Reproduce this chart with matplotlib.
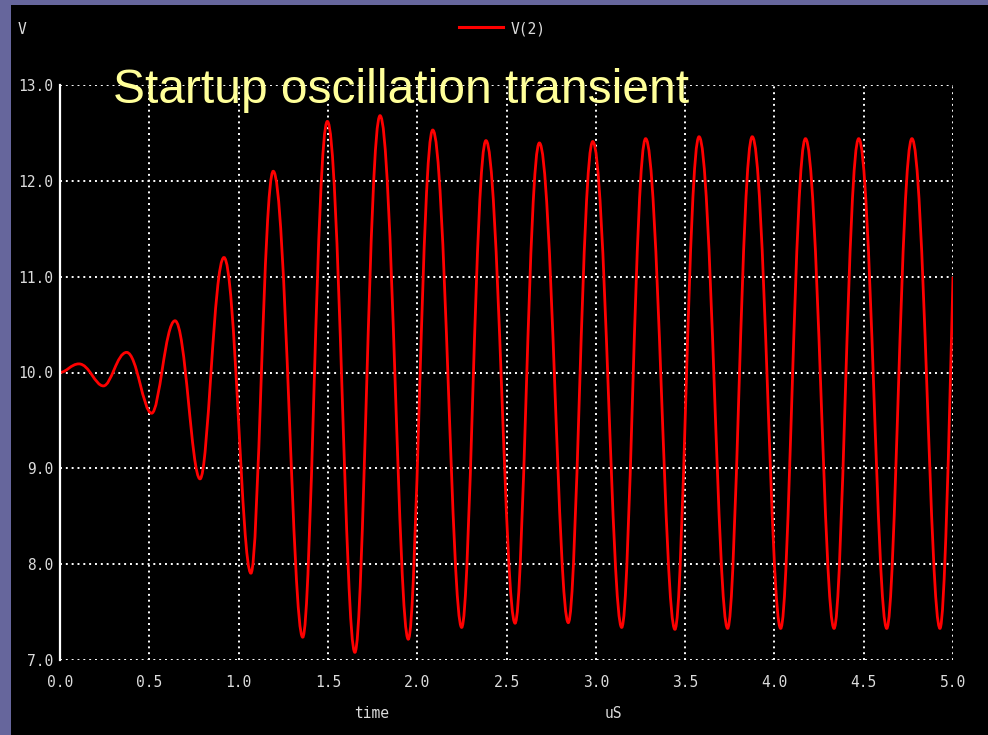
import matplotlib
matplotlib.use("Agg")
import matplotlib.pyplot as plt
from matplotlib.path import Path
from matplotlib.patches import PathPatch, Rectangle
from matplotlib.lines import Line2D

# turning points of V(2) (time in uS, volts), first and last are the run ends
t_ext = [0.0, 0.106, 0.243, 0.373, 0.513, 0.644, 0.784, 0.918, 1.069, 1.194,
         1.359, 1.497, 1.651, 1.792, 1.950, 2.087, 2.249, 2.385, 2.548, 2.684,
         2.846, 2.983, 3.145, 3.279, 3.443, 3.578, 3.738, 3.876, 4.035, 4.174,
         4.334, 4.472, 4.629, 4.770, 4.927, 5.0]
v_ext = [10.0, 10.09, 9.86, 10.21, 9.575, 10.54, 8.89, 11.20, 7.906, 12.10,
         7.238, 12.62, 7.08, 12.68, 7.217, 12.53, 7.34, 12.42, 7.384, 12.395,
         7.39, 12.41, 7.34, 12.44, 7.32, 12.46, 7.33, 12.46, 7.33, 12.44,
         7.33, 12.44, 7.33, 12.44, 7.33, 11.0]

x_ticks = [0.0, 0.5, 1.0, 1.5, 2.0, 2.5, 3.0, 3.5, 4.0, 4.5, 5.0]
y_ticks = [7.0, 8.0, 9.0, 10.0, 11.0, 12.0, 13.0]

title = "Startup oscillation transient"
trace_name = "V(2)"

W, H = 988, 735
fig = plt.figure(figsize=(W / 100, H / 100), dpi=100)
fig.patch.set_facecolor("#66669c")
fig.patches.append(Rectangle((11 / W, 0), 1 - 11 / W, 1 - 5 / H,
                             transform=fig.transFigure, facecolor="black",
                             edgecolor="none", zorder=-10))

ax = fig.add_axes([60 / W, 1 - 660 / H, 893 / W, 575 / H])
ax.set_zorder(1)
ax.set_facecolor("black")
ax.set_xlim(0, 5)
ax.set_ylim(7, 13)

# smooth trace: cubic segments with flat tangents at each turning point,
# a bit tighter at the troughs than at the peaks
k_peak, k_trough = 0.42, 0.34


def handle(i, j):
    # tangent handle length at point i, looking towards neighbour j
    return k_peak if v_ext[i] > v_ext[j] else k_trough


verts = [(t_ext[0], v_ext[0])]
codes = [Path.MOVETO]
for i in range(len(t_ext) - 1):
    t0, v0, t1, v1 = t_ext[i], v_ext[i], t_ext[i + 1], v_ext[i + 1]
    dt = t1 - t0
    p1 = (t0 + handle(i, i + 1) * dt, v0)
    if i == len(t_ext) - 2:
        p2 = (t1 - 0.3 * dt, v1 - 0.45 * (v1 - v0))
    else:
        p2 = (t1 - handle(i + 1, i) * dt, v1)
    verts += [p1, p2, (t1, v1)]
    codes += [Path.CURVE4] * 3
ax.add_patch(PathPatch(Path(verts, codes), facecolor="none",
                       edgecolor="#ff0000", lw=2.0, zorder=3))

grid_kw = dict(color="white", lw=1.4, ls=(0, (1, 2)), zorder=2)
for x in x_ticks[1:]:
    ax.axvline(x, **grid_kw)
for y in y_ticks:
    ax.axhline(y, **grid_kw)

for s in ["top", "right", "bottom"]:
    ax.spines[s].set_visible(False)
ax.spines["left"].set_color("white")
ax.spines["left"].set_linewidth(1.6)
ax.spines["left"].set_zorder(4)

lab_kw = dict(family="DejaVu Sans Mono", fontsize=10.5, color="#dcdcdc")
ax.set_xticks(x_ticks)
ax.set_xticklabels([f"{x:.1f}" for x in x_ticks], **lab_kw)
ax.set_yticks(y_ticks)
ax.set_yticklabels([f"{y:.1f}" for y in y_ticks], **lab_kw)
ax.tick_params(axis="x", length=0, pad=11)
ax.tick_params(axis="y", length=0, pad=5)

fig.text(22 / W, 1 - 30 / H, "V", ha="center", va="center", **lab_kw)
fig.text(372 / W, 1 - 714 / H, "time", ha="center", va="center", **lab_kw)
fig.text(613 / W, 1 - 714 / H, "uS", ha="center", va="center", **lab_kw)

# legend entry at the top
fig.lines.append(Line2D([459 / W, 503 / W], [1 - 27 / H, 1 - 27 / H],
                        transform=fig.transFigure, color="#ff0000", lw=2.2))
fig.text(511 / W, 1 - 29 / H, trace_name, ha="left", va="center", **lab_kw)

fig.text(113 / W, 1 - 103 / H, title, ha="left", va="baseline",
         family="Liberation Sans", fontsize=34.5, color="#ffff99", zorder=5)

fig.savefig("out.png", dpi=100, facecolor=fig.get_facecolor())
